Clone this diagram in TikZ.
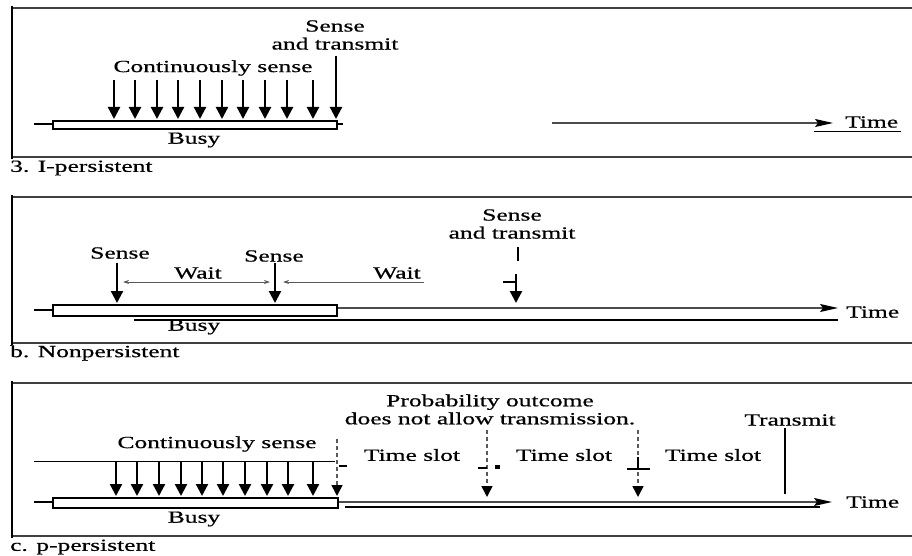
\documentclass[tikz,border=0pt]{standalone}
\usepackage{fontspec}
\setmainfont{Liberation Serif}[FakeStretch=1.5,FakeBold=0.6]
\usetikzlibrary{arrows.meta}

\begin{document}
\begin{tikzpicture}[x=1pt,y=-1pt,
  lbl/.style={font=\fontsize{17}{18}\selectfont, inner sep=0pt, align=center},
  frame/.style={draw=black!75, line width=1.5pt},
  edge/.style={draw=black, line width=2pt},
  busybar/.style={draw=black, line width=1.8pt, fill=white},
  tick/.style={draw=black, line width=1.2pt},
  sensearrow/.style={-{Triangle[length=12pt,width=12pt]}, line width=2.3pt},
  dasharrow/.style={-{Triangle[length=11pt,width=11pt,color=black]}, line width=1.6pt, dash pattern=on 4pt off 3pt, draw=black!65},
  timeaxis/.style={-{Stealth[length=18pt,width=8pt,inset=3pt,color=black]}, line width=1.3pt, draw=black!70},
  waitarrow/.style={line width=0.9pt, draw=black!65}
]
\useasboundingbox (0,0) rectangle (912,556);

% ---------------- a) 1-persistent ----------------
\draw[frame] (912,8) -- (12,8);
\draw[frame] (12,157) -- (912,157);
\draw[edge] (12,6) -- (12,159);

\draw[tick] (34,124) -- (52,124);
\draw[tick] (336,124) -- (343,124);
\node[busybar, minimum width=284pt, minimum height=8pt, inner sep=0pt, anchor=north west] (busyA) at (52,120) {};

\foreach \i/\x in {1/114,2/135,3/157,4/178,5/200,6/222,7/243,8/265,9/287,10/313}{
  \coordinate (sA\i) at (\x,80);
  \coordinate (eA\i) at (\x,119);
  \draw[sensearrow] (sA\i) -- (eA\i);
}
\coordinate (stA) at (336,56);
\coordinate (etA) at (336,119);
\draw[sensearrow] (stA) -- (etA);

\node[lbl] (contA) at (213,68) {Continuously sense};
\node[lbl] (senseTA) at (335,35) {Sense\\and transmit};
\node[lbl] (busyLA) at (194,140) {Busy};
\node[lbl, anchor=west] (capA) at (10,168) {3. I-persistent};

\coordinate (tA0) at (552,123);
\coordinate (tA1) at (833,123);
\draw[timeaxis] (tA0) -- (tA1);
\node[lbl, anchor=west] (timeA) at (845,122) {Time};
\draw[tick, line width=1pt] (814,132) -- (901,132);

% ---------------- b) Nonpersistent ----------------
\draw[frame] (912,197) -- (12,197);
\draw[frame] (12,343) -- (912,343);
\draw[edge] (12,195) -- (12,345);

\draw[tick] (34,310) -- (52,310);
\coordinate (tB0) at (336,308);
\coordinate (tB1) at (838,308);
\draw[timeaxis] (tB0) -- (tB1);
\draw[line width=1.2pt] (134,320) -- (838,320);
\node[busybar, minimum width=284pt, minimum height=11pt, inner sep=0pt, anchor=north west] (busyB) at (52,304) {};

\node[lbl] (busyLB) at (194,327) {Busy};
\node[lbl, anchor=west] (timeB) at (846,312) {Time};

\coordinate (s1B) at (117,263);
\coordinate (e1B) at (117,303);
\coordinate (s2B) at (275,263);
\coordinate (e2B) at (275,303);
\draw[sensearrow] (s1B) -- (e1B);
\draw[sensearrow] (s2B) -- (e2B);
\node[lbl] (sense1B) at (120,253) {Sense};
\node[lbl] (sense2B) at (274,256) {Sense};

\coordinate (w1a) at (123,282);
\coordinate (w1b) at (270,282);
\coordinate (w2a) at (283,282);
\coordinate (w2b) at (424,282);
\draw[waitarrow, {Stealth[length=6pt,width=4pt]}-{Stealth[length=6pt,width=4pt]}] (w1a) -- (w1b);
\draw[waitarrow, {Stealth[length=6pt,width=4pt]}-] (w2a) -- (w2b);
\node[lbl] (wait1B) at (198,273) {Wait};
\node[lbl] (wait2B) at (397,273) {Wait};

\node[lbl] (senseTB) at (512,224) {Sense\\and transmit};
\coordinate (stB0) at (518,247);
\coordinate (stB1) at (518,261);
\coordinate (stB2) at (516,274);
\coordinate (stB3) at (516,303);
\draw[line width=2.2pt] (stB0) -- (stB1);
\draw[sensearrow] (stB2) -- (stB3);
\draw[tick] (503,282) -- (516,282);
\node[lbl, anchor=west] (capB) at (10,353) {b. Nonpersistent};

% ---------------- c) p-persistent ----------------
\draw[frame] (912,383) -- (12,383);
\draw[frame] (12,536) -- (912,536);
\draw[edge] (12,381) -- (12,538);

\draw[tick] (34,502) -- (52,502);
\coordinate (tC0) at (337,502);
\coordinate (tC1) at (832,502);
\draw[timeaxis] (tC0) -- (tC1);
\draw[line width=1.2pt] (345,507) -- (820,507);
\node[busybar, minimum width=285pt, minimum height=10pt, inner sep=0pt, anchor=north west] (busyC) at (52,497) {};

\coordinate (topC0) at (34,461);
\coordinate (topC1) at (335,461);
\draw[line width=1pt] (topC0) -- (topC1);

\foreach \i/\x in {1/116,2/137,3/159,4/181,5/202,6/223,7/245,8/267,9/288,10/313}{
  \coordinate (sC\i) at (\x,461);
  \coordinate (eC\i) at (\x,496);
  \draw[sensearrow] (sC\i) -- (eC\i);
}
\coordinate (d1a) at (337,439);
\coordinate (d1b) at (337,496);
\draw[dasharrow] (d1a) -- (d1b);
\draw[line width=1.5pt] (339,466) -- (347,466);

\node[lbl] (contC) at (217,444) {Continuously sense};
\node[lbl] (busyLC) at (194,519) {Busy};
\node[lbl, anchor=west] (timeC) at (846,502) {Time};

\node[lbl] (probC) at (490,409.5) {Probability outcome\\does not allow transmission.};

\coordinate (d2a) at (487,430);
\coordinate (d2b) at (487,497);
\draw[dasharrow] (d2a) -- (d2b);
\draw[tick] (478,468) -- (487,468);
\fill (495,465) rectangle (500,469);

\coordinate (d3a) at (638,430);
\coordinate (d3b) at (638,497);
\draw[dasharrow] (d3a) -- (d3b);
\draw[line width=2pt] (638,457) -- (638,469);
\draw[tick] (627,469) -- (650,469);

\node[lbl] (slot1C) at (412,455) {Time slot};
\node[lbl] (slot2C) at (564,455) {Time slot};
\node[lbl] (slot3C) at (713,455) {Time slot};

\node[lbl] (transC) at (790,420) {Transmit};
\coordinate (trC0) at (785,428);
\coordinate (trC1) at (785,494);
\draw[line width=1.5pt] (trC0) -- (trC1);

\node[lbl, anchor=west] (capC) at (10,547) {c. p-persistent};

\end{tikzpicture}
\end{document}
